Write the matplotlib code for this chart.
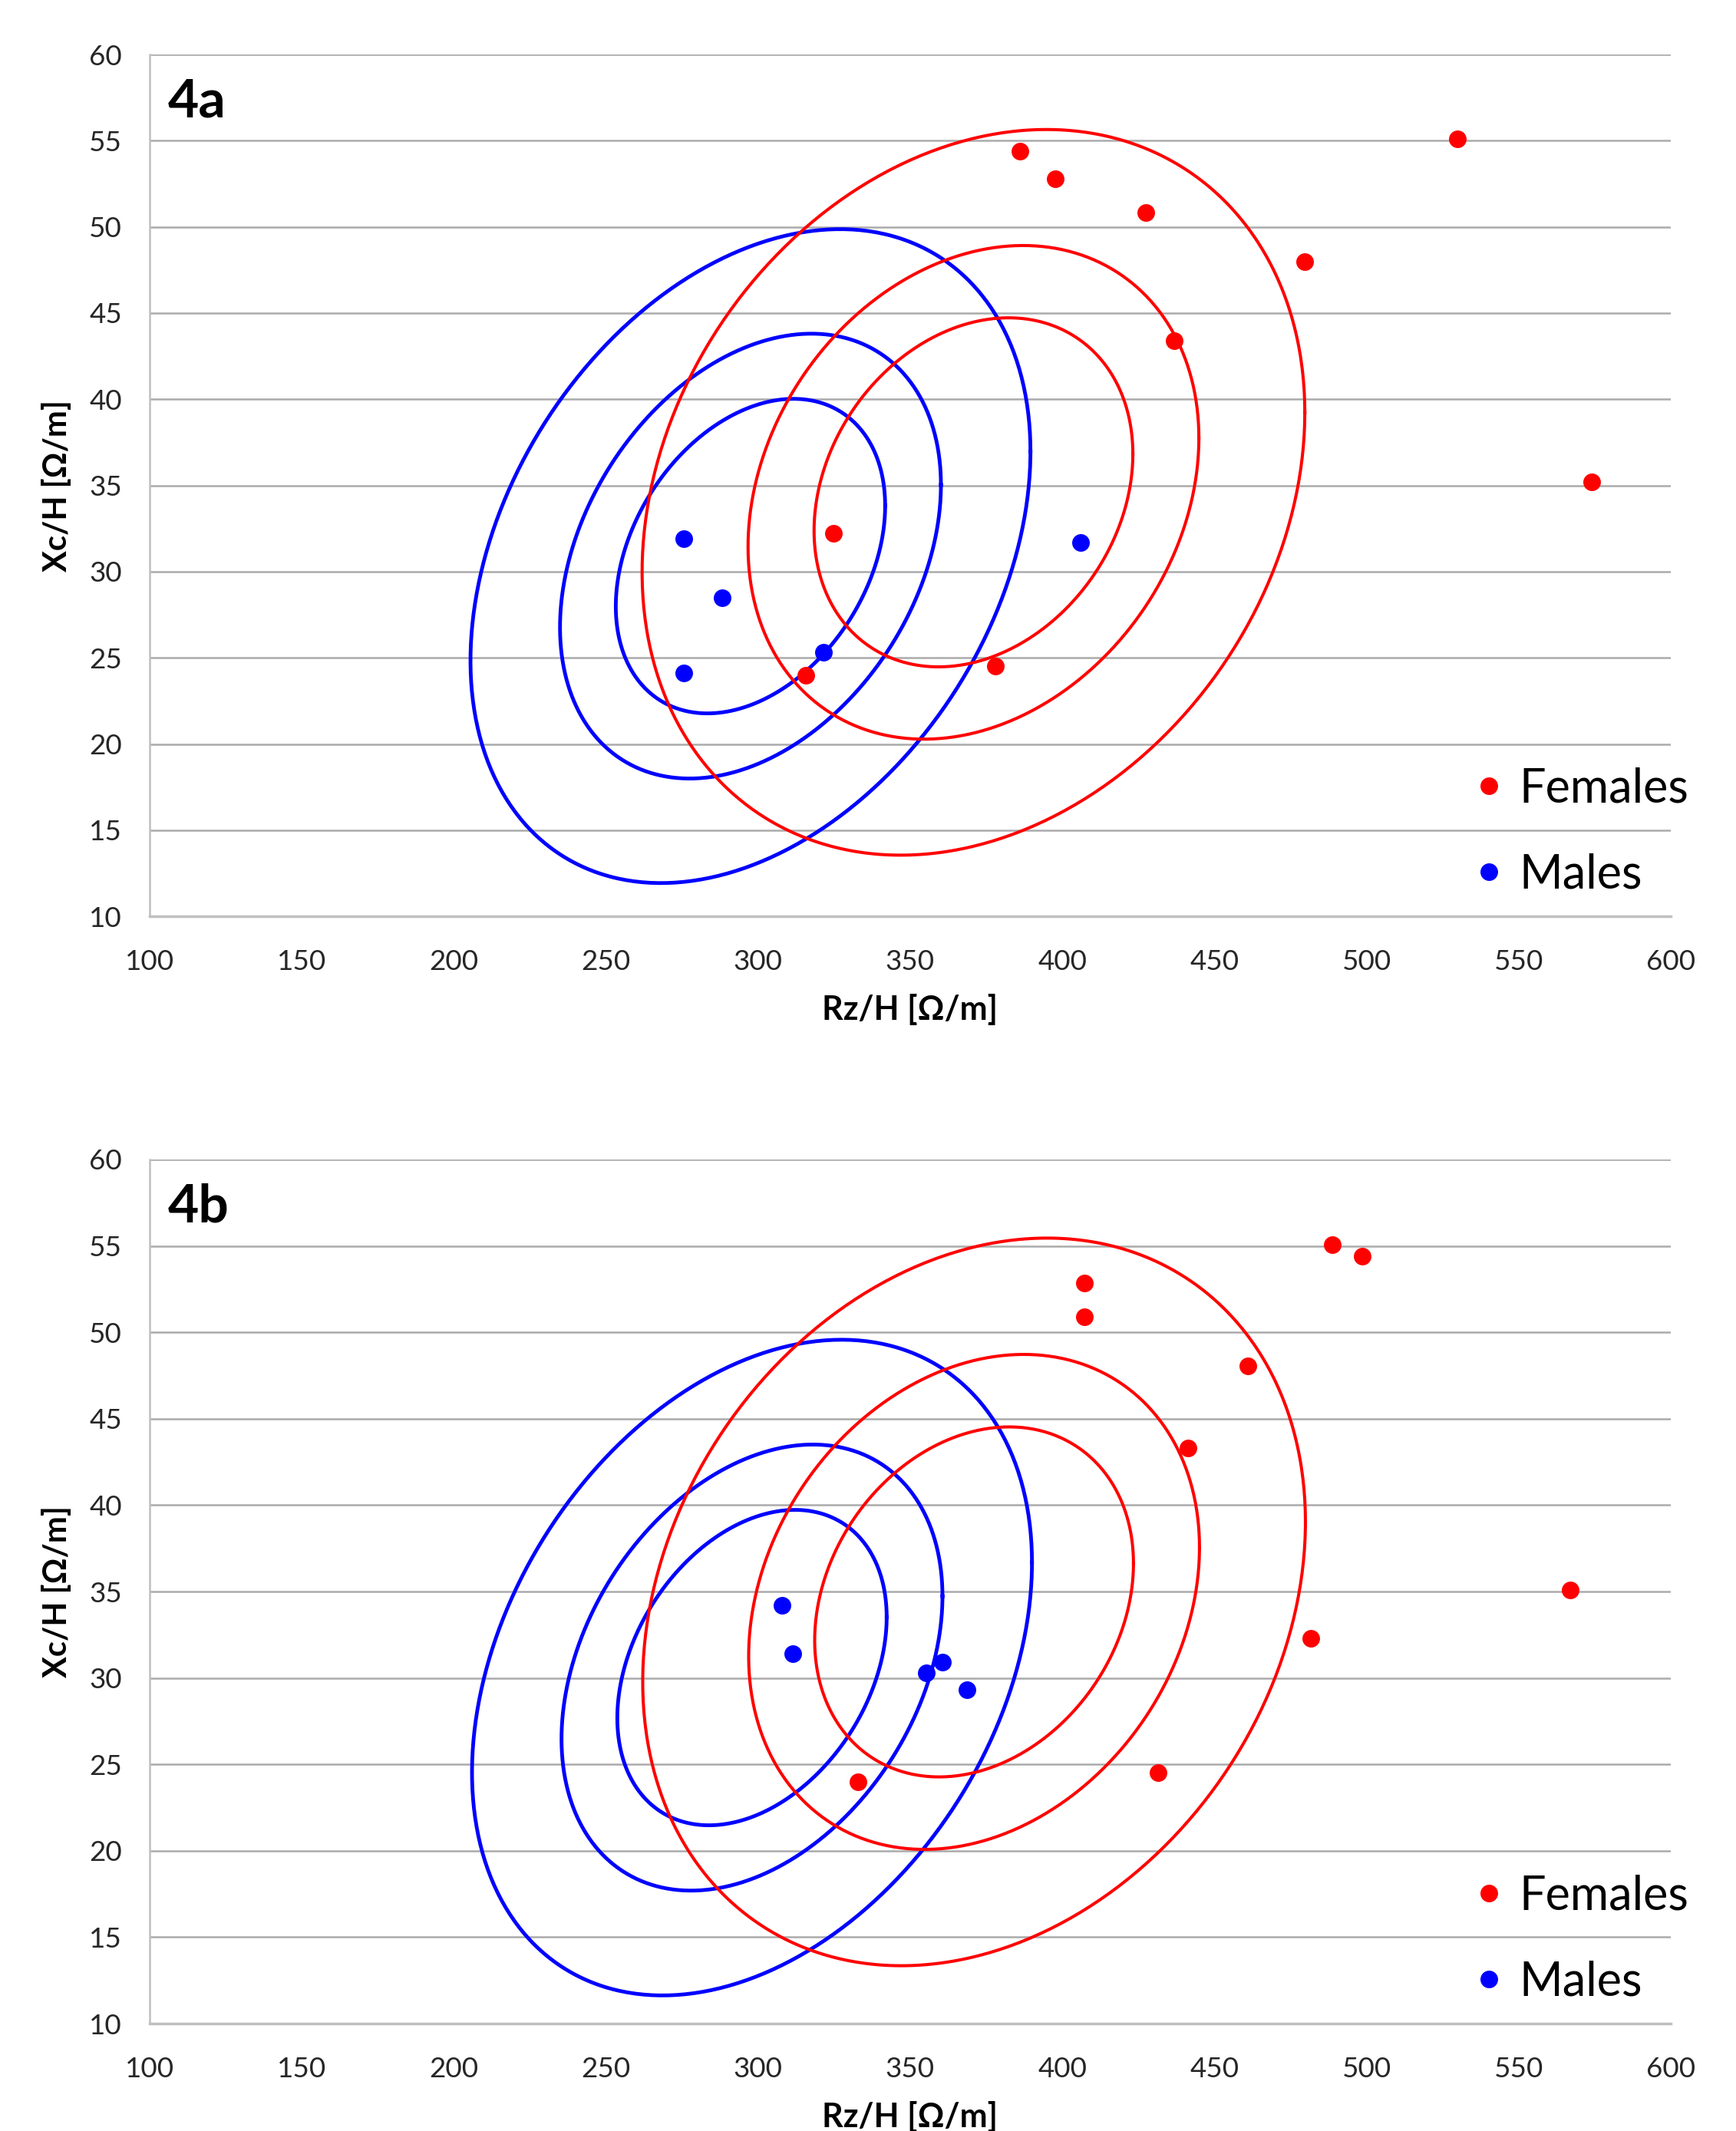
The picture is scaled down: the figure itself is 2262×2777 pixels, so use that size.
import numpy as np
import matplotlib
matplotlib.use('Agg')
import matplotlib.pyplot as plt

plt.rcParams['font.family'] = ['Lato', 'DejaVu Sans']

# panel 4a points
a_fem_x = [386, 397.6, 427.5, 479.8, 436.9, 529.8, 574, 324.8, 315.8, 378]
a_fem_y = [54.4, 52.8, 50.85, 48.0, 43.4, 55.1, 35.2, 32.2, 24.0, 24.5]
a_mal_x = [275.6, 288.1, 275.6, 321.6, 406.1]
a_mal_y = [31.9, 28.5, 24.1, 25.3, 31.7]

# panel 4b points
b_fem_x = [488.8, 498.6, 407.4, 407.4, 461, 441.4, 567, 481.6, 431.5, 332.8]
b_fem_y = [55.05, 54.4, 52.85, 50.9, 48.05, 43.3, 35.1, 32.3, 24.5, 24.0]
b_mal_x = [307.8, 311.4, 355.2, 360.5, 368.6]
b_mal_y = [34.2, 31.4, 30.3, 30.9, 29.3]

# tolerance ellipses: mean x, mean y, sd x, sd y, correlation
a_fem_ell = [370.8, 34.6, 44.5, 8.6, 0.22]
a_mal_ell = [297.5, 30.9, 37.6, 7.75, 0.32]
b_fem_ell = [371.0, 34.4, 44.5, 8.6, 0.22]
b_mal_ell = [298.0, 30.6, 37.6, 7.75, 0.32]
levels = [0.50, 0.75, 0.95]

x_ticks = [100, 150, 200, 250, 300, 350, 400, 450, 500, 550, 600]
y_ticks = [10, 15, 20, 25, 30, 35, 40, 45, 50, 55, 60]


def draw_ellipses(ax, params, color, lw):
    mx, my, sx, sy, r = params
    cov = np.array([[sx * sx, r * sx * sy], [r * sx * sy, sy * sy]])
    L = np.linalg.cholesky(cov)
    t = np.linspace(0, 2 * np.pi, 400)
    circle = np.vstack([np.cos(t), np.sin(t)])
    for p in levels:
        k = np.sqrt(-2 * np.log(1 - p))
        pts = L @ circle * k
        ax.plot(pts[0] + mx, pts[1] + my, color=color, lw=lw, zorder=3)


def panel(ax, tag, fx, fy, mx, my, fell, mell):
    draw_ellipses(ax, mell, '#0000FF', 3.5)
    draw_ellipses(ax, fell, '#FF0000', 2.9)
    ax.plot(fx, fy, 'o', color='#FF0000', ms=15.5, ls='none', label='Females', zorder=4)
    ax.plot(mx, my, 'o', color='#0000FF', ms=15.5, ls='none', label='Males', zorder=4)

    ax.set_xlim(100, 600)
    ax.set_ylim(10, 60)
    ax.set_xticks(x_ticks)
    ax.set_yticks(y_ticks)
    ax.tick_params(length=0, labelsize=26.5, colors='#262626')
    ax.tick_params(axis='x', pad=31)
    ax.tick_params(axis='y', pad=26)
    ax.grid(axis='y', color='#ababab', lw=1.8)
    ax.set_axisbelow(True)
    for s in ['top', 'right']:
        ax.spines[s].set_visible(False)
    ax.spines['left'].set_color('#bfbfbf')
    ax.spines['left'].set_linewidth(1.8)
    ax.spines['bottom'].set_color('#bfbfbf')
    ax.spines['bottom'].set_linewidth(2.5)

    ax.set_xlabel('Rz/H [\u03A9/m]', fontsize=31, fontweight='bold', labelpad=18)
    ax.set_ylabel('Xc/H [\u03A9/m]', fontsize=30, fontweight='bold', labelpad=16)
    ax.text(0.012, 0.945, tag, transform=ax.transAxes, fontsize=50,
            fontweight='bold', va='center', ha='left')
    ax.legend(loc='center left', bbox_to_anchor=(0.862, 0.098), frameon=False,
              fontsize=44, handlelength=0.4, handletextpad=0.45,
              labelspacing=0.9, borderaxespad=0)


fig = plt.figure(figsize=(22.62, 27.77), dpi=100)
ax1 = fig.add_axes([0.0862, 0.570, 0.8762, 0.4044])
ax2 = fig.add_axes([0.0862, 0.0504, 0.8762, 0.4055])

panel(ax1, '4a', a_fem_x, a_fem_y, a_mal_x, a_mal_y, a_fem_ell, a_mal_ell)
panel(ax2, '4b', b_fem_x, b_fem_y, b_mal_x, b_mal_y, b_fem_ell, b_mal_ell)

fig.savefig('out.png', dpi=100)
plt.close()
